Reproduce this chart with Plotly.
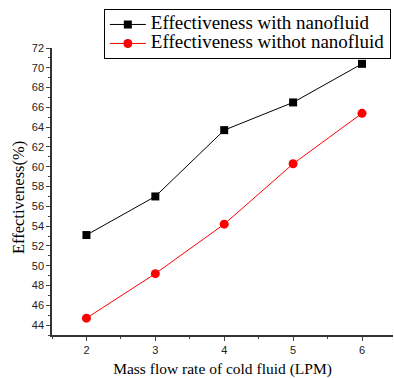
import plotly.graph_objects as go

flow_rate = [2, 3, 4, 5, 6]
eff_with_nano = [53.1, 57.0, 63.7, 66.5, 70.4]
eff_without_nano = [44.7, 49.2, 54.2, 60.3, 65.4]
y_ticks = list(range(44, 73, 2))
names = ["Effectiveness with nanofluid", "Effectiveness withot nanofluid"]

def big(t):
    return "<span style='font-size:19px'>" + t + "</span>"

fig = go.Figure()
fig.add_trace(go.Scatter(x=flow_rate, y=eff_with_nano, mode="lines+markers",
                         name=big(names[0]),
                         line=dict(color="black", width=1),
                         marker=dict(symbol="square", size=8, color="black")))
fig.add_trace(go.Scatter(x=flow_rate, y=eff_without_nano, mode="lines+markers",
                         name=big(names[1]),
                         line=dict(color="red", width=1),
                         marker=dict(symbol="circle", size=9, color="red")))

fig.update_layout(
    width=394, height=378,
    margin=dict(l=52, r=1, t=48, b=43, autoexpand=False),
    paper_bgcolor="white", plot_bgcolor="white",
    showlegend=True,
    legend=dict(x=0.152, y=1.136, xanchor="left", yanchor="top",
                bgcolor="white", bordercolor="black", borderwidth=1,
                font=dict(family="Liberation Serif", size=12, color="black"),
                itemwidth=36, tracegroupgap=0),
    annotations=[dict(text="Effectiveness(%)", textangle=-90, xref="paper", yref="paper",
                      x=-0.0997, y=0.477, xanchor="center", yanchor="middle",
                      showarrow=False,
                      font=dict(family="Liberation Serif", size=16.5, color="black"))],
)
fig.update_xaxes(range=[1.5, 6.45], tickvals=flow_rate, ticks="outside", ticklen=4,
                 showline=True, linecolor="#333", linewidth=1.5, showgrid=False,
                 zeroline=False, tickfont=dict(family="Liberation Sans", size=11, color="#222"),
                 minor=dict(tickvals=[1.5, 2.5, 3.5, 4.5, 5.5], ticks="outside", ticklen=2),
                 title=dict(text="Mass flow rate of cold fluid (LPM)", standoff=10,
                            font=dict(family="Liberation Serif", size=15.5, color="black")))
fig.update_yaxes(range=[43, 72], tickvals=y_ticks, ticks="outside", ticklen=4,
                 showline=True, linecolor="#333", linewidth=1.5, showgrid=False,
                 zeroline=False, tickfont=dict(family="Liberation Sans", size=11, color="#222"),
                 minor=dict(tickvals=list(range(43, 72, 2)), ticks="outside", ticklen=2))

fig.write_html("out.html", config={"displayModeBar": False},
               post_script="document.body.style.margin='0';")
